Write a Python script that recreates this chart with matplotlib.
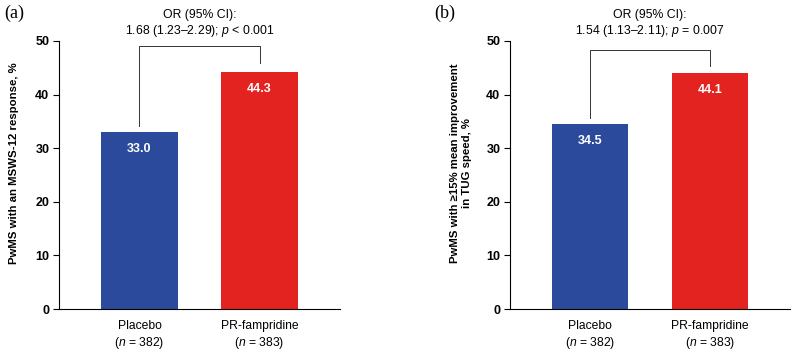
import matplotlib.pyplot as plt

plt.rcParams['font.family'] = ['Liberation Sans', 'DejaVu Sans']
plt.rcParams['mathtext.fontset'] = 'custom'
plt.rcParams['mathtext.it'] = 'Liberation Sans:italic'
plt.rcParams['mathtext.rm'] = 'Liberation Sans'

groups = ["Placebo\n($\\it{n}$ = 382)", "PR-fampridine\n($\\it{n}$ = 383)"]
msws = [33.0, 44.3]
tug = [34.5, 44.1]
colors = ["#2B4A9B", "#E2231F"]

panels = [
    dict(tag="(a)", values=msws, ylabel="PwMS with an MSWS-12 response, %",
         stat="1.68 (1.23\u20132.29); $\\it{p}$ < 0.001", top=49.1, right_end=45.8,
         left=0.0742, right=0.4277, lab_x=-0.142),
    dict(tag="(b)", values=tug, ylabel="PwMS with \u226515% mean improvement\nin TUG speed, %",
         stat="1.54 (1.13\u20132.11); $\\it{p}$ = 0.007", top=48.4, right_end=45.4,
         left=0.6415, right=0.9937, lab_x=-0.136),
]

fig = plt.figure(figsize=(7.95, 3.53), dpi=100)

for p in panels:
    ax = fig.add_axes([p["left"], 0.1246, p["right"] - p["left"], 0.8839 - 0.1246])
    x = [0, 1]
    ax.bar(x, p["values"], width=0.64, color=colors)
    for xi, v in zip(x, p["values"]):
        ax.text(xi, v - 3.2, f"{v:.1f}", color="white", ha="center", va="center",
                fontsize=9, fontweight="bold")

    # bracket between the bars
    y0 = p["values"][0] + 1.1
    ax.plot([0, 0, 1, 1], [y0, p["top"], p["top"], p["right_end"]],
            color="#333333", lw=0.7, clip_on=False)
    ax.text(0.5, 54.9, "OR (95% CI):", ha="center", va="center", fontsize=8.8)
    ax.text(0.5, 51.9, p["stat"], ha="center", va="center", fontsize=8.8)

    ax.set_xlim(-0.67, 1.67)
    ax.set_ylim(0, 50)
    ax.set_yticks([0, 10, 20, 30, 40, 50])
    ax.set_xticks(x)
    ax.set_xticklabels(groups, fontsize=8.7, linespacing=1.25)
    ax.tick_params(axis="x", length=0, pad=8)
    ax.tick_params(axis="y", length=4, width=0.8, labelsize=9, pad=3)
    for lab in ax.get_yticklabels():
        lab.set_fontweight("bold")
    ax.spines["top"].set_visible(False)
    ax.spines["right"].set_visible(False)
    ax.spines["left"].set_linewidth(0.8)
    ax.spines["bottom"].set_linewidth(0.8)
    ax.set_ylabel(p["ylabel"], fontsize=8.2, fontweight="bold", linespacing=1.2)
    ax.yaxis.set_label_coords(p["lab_x"], 0.545)

fig.text(0.005, 0.962, "(a)", family="Liberation Serif", fontsize=13, va="center")
fig.text(0.546, 0.962, "(b)", family="Liberation Serif", fontsize=13, va="center")

fig.savefig("out.png", dpi=100)
